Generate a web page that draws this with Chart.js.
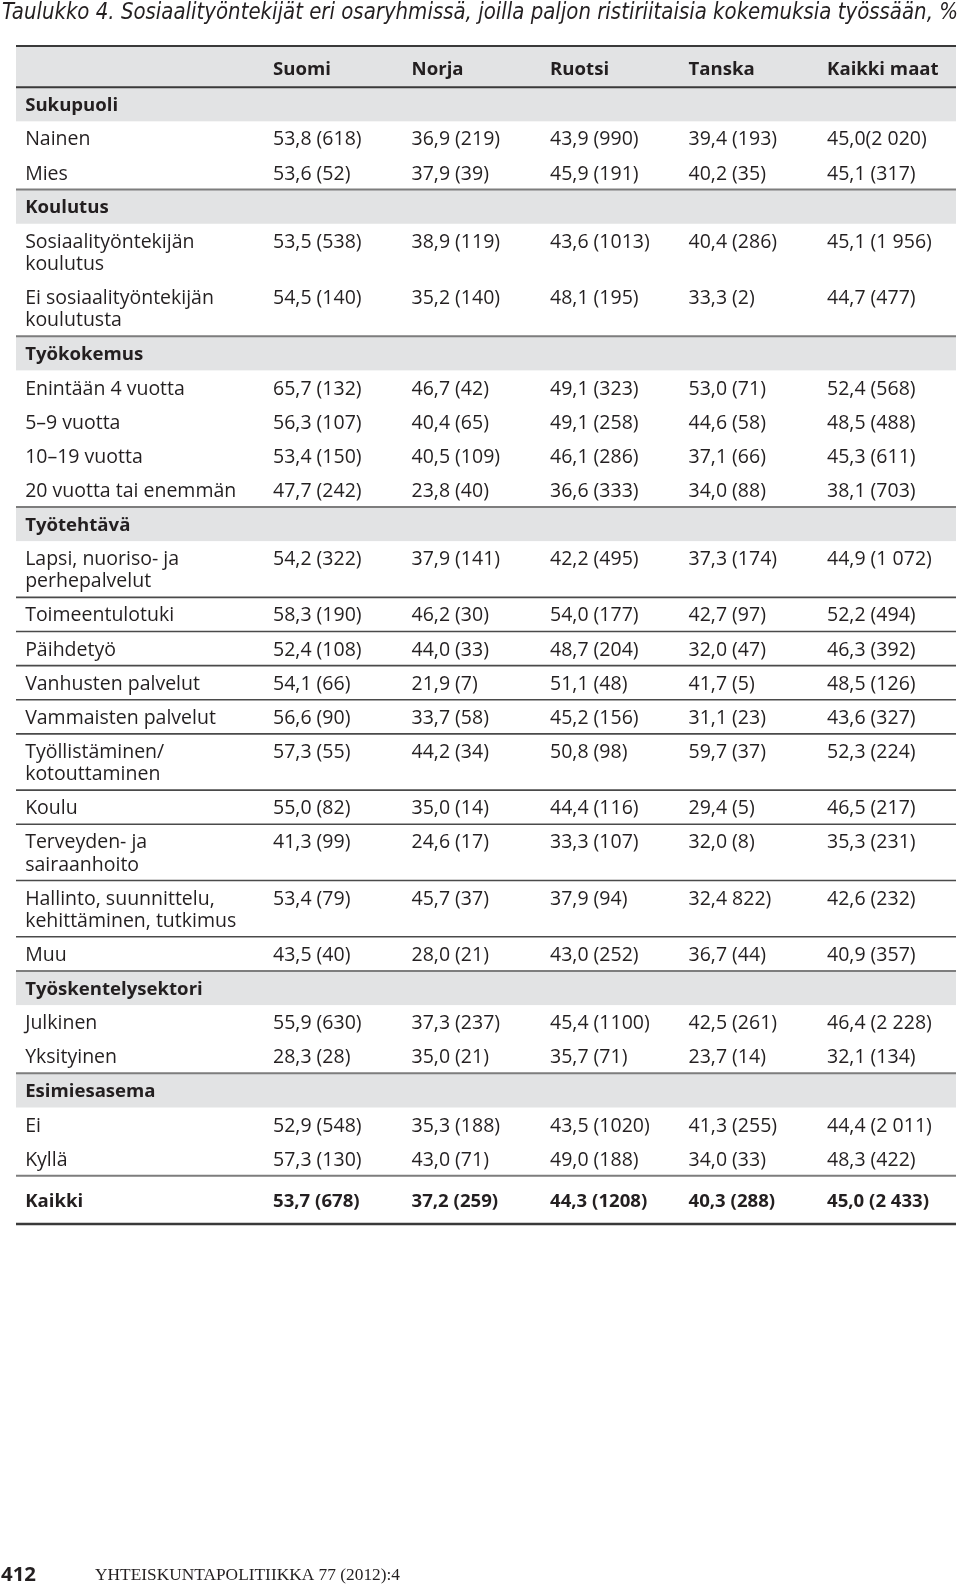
<!DOCTYPE html>
<html>
<head>
<meta charset="utf-8">
<script src="https://cdn.jsdelivr.net/npm/chart.js@4.4.1/dist/chart.umd.min.js"></script>
<style>
html, body { margin: 0; padding: 0; background: #fff; }
canvas { display: block; }
</style>
</head>
<body>
<canvas id="myChart" width="960" height="1588"></canvas>
<script>
var title = 'Taulukko 4. Sosiaalityöntekijät eri osaryhmissä, joilla paljon ristiriitaisia kokemuksia työssään, %';
var footerPage = '412';
var footerJournal = 'YHTEISKUNTAPOLITIIKKA 77 (2012):4';

var countries = ['Suomi', 'Norja', 'Ruotsi', 'Tanska', 'Kaikki maat'];

var groups = ['Sukupuoli', 'Koulutus', 'Työkokemus', 'Työtehtävä', 'Työskentelysektori', 'Esimiesasema'];

var rowLabels = [
    'Sukupuoli', 'Nainen', 'Mies',
    'Koulutus', 'Sosiaalityöntekijän\nkoulutus', 'Ei sosiaalityöntekijän\nkoulutusta',
    'Työkokemus', 'Enintään 4 vuotta', '5–9 vuotta', '10–19 vuotta', '20 vuotta tai enemmän',
    'Työtehtävä', 'Lapsi, nuoriso- ja\nperhepalvelut', 'Toimeentulotuki', 'Päihdetyö',
    'Vanhusten palvelut', 'Vammaisten palvelut', 'Työllistäminen/\nkotouttaminen', 'Koulu',
    'Terveyden- ja\nsairaanhoito', 'Hallinto, suunnittelu,\nkehittäminen, tutkimus', 'Muu',
    'Työskentelysektori', 'Julkinen', 'Yksityinen',
    'Esimiesasema', 'Ei', 'Kyllä',
    'Kaikki'
];

// % (n) per country, null on group heading rows
var suomi = [null, '53,8 (618)', '53,6 (52)', null, '53,5 (538)', '54,5 (140)', null, '65,7 (132)', '56,3 (107)', '53,4 (150)', '47,7 (242)', null, '54,2 (322)', '58,3 (190)', '52,4 (108)', '54,1 (66)', '56,6 (90)', '57,3 (55)', '55,0 (82)', '41,3 (99)', '53,4 (79)', '43,5 (40)', null, '55,9 (630)', '28,3 (28)', null, '52,9 (548)', '57,3 (130)', '53,7 (678)'];
var norja = [null, '36,9 (219)', '37,9 (39)', null, '38,9 (119)', '35,2 (140)', null, '46,7 (42)', '40,4 (65)', '40,5 (109)', '23,8 (40)', null, '37,9 (141)', '46,2 (30)', '44,0 (33)', '21,9 (7)', '33,7 (58)', '44,2 (34)', '35,0 (14)', '24,6 (17)', '45,7 (37)', '28,0 (21)', null, '37,3 (237)', '35,0 (21)', null, '35,3 (188)', '43,0 (71)', '37,2 (259)'];
var ruotsi = [null, '43,9 (990)', '45,9 (191)', null, '43,6 (1013)', '48,1 (195)', null, '49,1 (323)', '49,1 (258)', '46,1 (286)', '36,6 (333)', null, '42,2 (495)', '54,0 (177)', '48,7 (204)', '51,1 (48)', '45,2 (156)', '50,8 (98)', '44,4 (116)', '33,3 (107)', '37,9 (94)', '43,0 (252)', null, '45,4 (1100)', '35,7 (71)', null, '43,5 (1020)', '49,0 (188)', '44,3 (1208)'];
var tanska = [null, '39,4 (193)', '40,2 (35)', null, '40,4 (286)', '33,3 (2)', null, '53,0 (71)', '44,6 (58)', '37,1 (66)', '34,0 (88)', null, '37,3 (174)', '42,7 (97)', '32,0 (47)', '41,7 (5)', '31,1 (23)', '59,7 (37)', '29,4 (5)', '32,0 (8)', '32,4 822)', '36,7 (44)', null, '42,5 (261)', '23,7 (14)', null, '41,3 (255)', '34,0 (33)', '40,3 (288)'];
var kaikkiMaat = [null, '45,0(2 020)', '45,1 (317)', null, '45,1 (1 956)', '44,7 (477)', null, '52,4 (568)', '48,5 (488)', '45,3 (611)', '38,1 (703)', null, '44,9 (1 072)', '52,2 (494)', '46,3 (392)', '48,5 (126)', '43,6 (327)', '52,3 (224)', '46,5 (217)', '35,3 (231)', '42,6 (232)', '40,9 (357)', null, '46,4 (2 228)', '32,1 (134)', null, '44,4 (2 011)', '48,3 (422)', '45,0 (2 433)'];

var columns = [suomi, norja, ruotsi, tanska, kaikkiMaat];

// layout
var FONT = '"Open Sans", "Noto Sans", sans-serif';
var FONT_SIZE = 19.5;
var BOLD_SIZE = 18.6;
var TEXT_DY = 1.5;
var INK = '#231f20';
var BAND = '#e2e3e4';
var HEADER_H = 41, ROW_H = 34, LINE_H = 22, TOTAL_H = 48;
var LABEL_X = -0.79;

var rowY = [], rowTop = [], rowBottom = [];
var pos = HEADER_H;
rowLabels.forEach(function (lab, i) {
    var n = lab.split('\n').length;
    var isTotal = i === rowLabels.length - 1;
    var h = isTotal ? TOTAL_H : ROW_H + (n - 1) * LINE_H;
    rowTop.push(pos);
    rowY.push(pos + (isTotal ? 24 : 17));
    pos += h;
    rowBottom.push(pos);
});
var tableH = pos;

function isGroup(i) { return groups.indexOf(rowLabels[i]) >= 0; }
function isTotal(i) { return i === rowLabels.length - 1; }

var datasets = [{
    label: 'labels',
    data: rowLabels.map(function (t, i) { return { x: LABEL_X, y: rowY[i], text: t }; })
}];
columns.forEach(function (col, c) {
    var pts = [];
    col.forEach(function (v, i) {
        if (v !== null) pts.push({ x: c + 1, y: rowY[i], text: v, row: i });
    });
    datasets.push({ label: countries[c], data: pts });
});
datasets.forEach(function (d) { d.pointRadius = 0; d.hoverRadius = 0; });

function fitText(ctx, text, x, y, width) {
    var w = ctx.measureText(text).width;
    ctx.save();
    ctx.translate(x, y);
    ctx.scale(width / w, 1);
    ctx.fillText(text, 0, 0);
    ctx.restore();
}

var tablePlugin = {
    id: 'table',
    beforeDatasetsDraw: function (chart) {
        var ctx = chart.ctx, xs = chart.scales.x, ys = chart.scales.y;
        var left = xs.getPixelForValue(xs.min), right = xs.getPixelForValue(xs.max);
        function band(a, b) {
            var ya = ys.getPixelForValue(a), yb = ys.getPixelForValue(b);
            ctx.fillRect(left, ya, right - left, yb - ya);
        }
        function rule(v, w, color) {
            var yy = ys.getPixelForValue(v);
            ctx.strokeStyle = color;
            ctx.lineWidth = w;
            ctx.beginPath();
            ctx.moveTo(left, yy);
            ctx.lineTo(right, yy);
            ctx.stroke();
        }
        ctx.save();
        ctx.fillStyle = BAND;
        band(0, HEADER_H);
        rowLabels.forEach(function (l, i) { if (isGroup(i)) band(rowTop[i], rowBottom[i]); });

        var group = null;
        rowLabels.forEach(function (l, i) {
            if (isGroup(i)) group = l;
            if (isTotal(i)) return;
            if (isGroup(i + 1) || isTotal(i + 1)) rule(rowBottom[i], 2, '#7d7d7d');
            else if (group === 'Työtehtävä' && !isGroup(i)) rule(rowBottom[i], 1.6, '#4a4a4a');
        });
        rule(0, 2, '#3a3a3a');
        rule(HEADER_H, 2, '#3a3a3a');
        rule(tableH, 2.6, '#3a3a3a');
        ctx.restore();
    },
    afterDatasetsDraw: function (chart) {
        var ctx = chart.ctx, xs = chart.scales.x, ys = chart.scales.y;
        var lineStep = ys.getPixelForValue(LINE_H) - ys.getPixelForValue(0);
        ctx.save();
        ctx.fillStyle = INK;
        ctx.textAlign = 'left';
        ctx.textBaseline = 'middle';

        // column headings
        ctx.font = 'bold ' + BOLD_SIZE + 'px ' + FONT;
        countries.forEach(function (c, i) {
            ctx.fillText(c, xs.getPixelForValue(i + 1), ys.getPixelForValue(22) + TEXT_DY);
        });

        chart.data.datasets.forEach(function (ds, di) {
            var meta = chart.getDatasetMeta(di);
            meta.data.forEach(function (pt, j) {
                var d = ds.data[j];
                var row = di === 0 ? j : d.row;
                var bold = isTotal(row) || (di === 0 && isGroup(row));
                ctx.font = bold ? 'bold ' + BOLD_SIZE + 'px ' + FONT : FONT_SIZE + 'px ' + FONT;
                d.text.split('\n').forEach(function (line, k) {
                    ctx.fillText(line, pt.x, pt.y + k * lineStep + TEXT_DY);
                });
            });
        });
        ctx.restore();
    },
    afterDraw: function (chart) {
        var ctx = chart.ctx;
        ctx.save();
        ctx.fillStyle = INK;
        ctx.textAlign = 'left';
        ctx.textBaseline = 'alphabetic';
        ctx.font = 'italic 22.5px "Liberation Sans Narrow", "DejaVu Sans Condensed", "Liberation Sans", sans-serif';
        fitText(ctx, title, 2, 19, 956);
        ctx.textBaseline = 'middle';
        ctx.font = 'bold 20px ' + FONT;
        fitText(ctx, footerPage, 1, 1575, 35);
        ctx.font = '16.5px "Liberation Serif", "DejaVu Serif", serif';
        fitText(ctx, footerJournal, 95, 1576, 305);
        ctx.restore();
    }
};

var ctx = document.getElementById('myChart').getContext('2d');
var chart = new Chart(ctx, {
    type: 'scatter',
    data: { datasets: datasets },
    options: {
        responsive: false,
        animation: false,
        events: [],
        layout: { padding: { left: 16, right: 4, top: 46, bottom: 1588 - 1224 } },
        scales: {
            x: { type: 'linear', display: false, min: -0.856, max: 5.931 },
            y: { type: 'linear', display: false, reverse: true, min: 0, max: tableH }
        },
        plugins: {
            legend: { display: false },
            tooltip: { enabled: false }
        }
    },
    plugins: [tablePlugin]
});
</script>
</body>
</html>
